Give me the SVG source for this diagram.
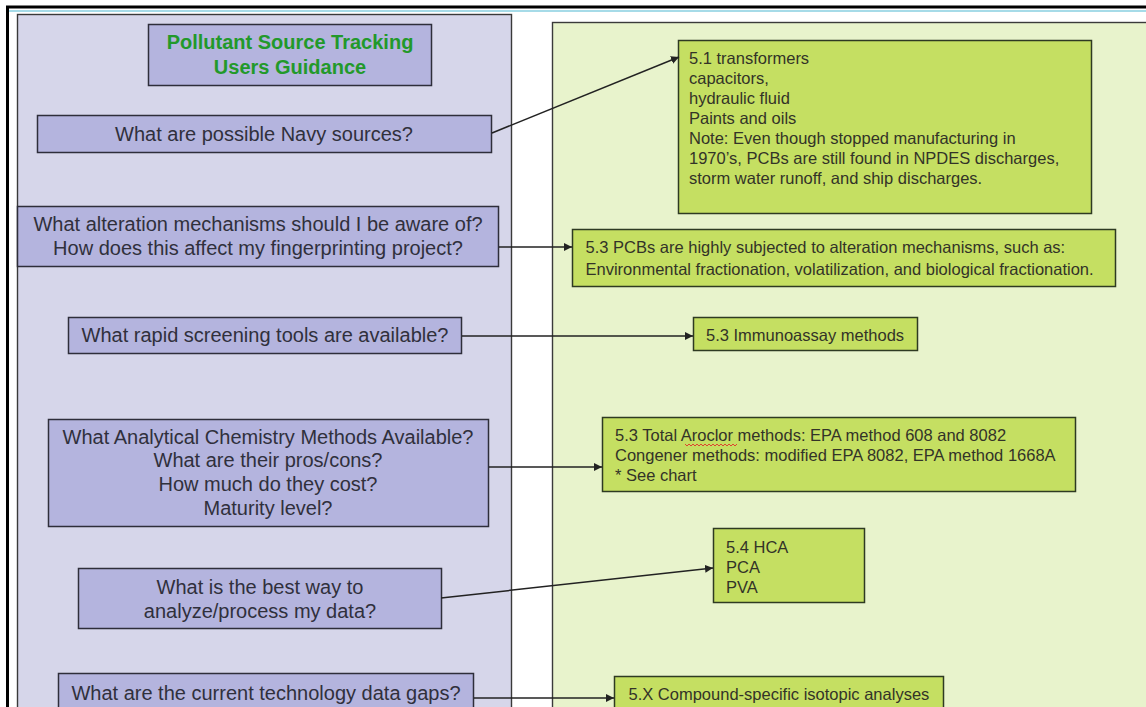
<svg xmlns="http://www.w3.org/2000/svg" width="1146" height="707" viewBox="0 0 1146 707">
  <defs>
    <marker id="arrow" viewBox="0 0 10 10" refX="10" refY="5" markerWidth="8" markerHeight="8" markerUnits="userSpaceOnUse" orient="auto">
      <path d="M0,0 L10,5 L0,10 z" fill="#222"/>
    </marker>
    <style>
      .frame { fill: none; stroke: #000; stroke-width: 3; }
      .rule { stroke: #a6dbe8; stroke-width: 2; }
      .panel-q { fill: #d6d6ea; stroke: #3a3a3a; stroke-width: 1.4; }
      .panel-a { fill: #e8f3cc; stroke: #3a3a3a; stroke-width: 1.4; }
      .q { fill: #b4b4de; stroke: #2e2e3a; stroke-width: 1.5; }
      .a { fill: #c5df62; stroke: #2e3a22; stroke-width: 1.5; }
      .qt { font-family: "Liberation Sans", Arial, sans-serif; font-size: 20px; fill: #30303c; text-anchor: middle; }
      .title { font-family: "Liberation Sans", Arial, sans-serif; font-size: 20px; font-weight: bold; fill: #22992a; text-anchor: middle; }
      .at { font-family: "Liberation Sans", Arial, sans-serif; font-size: 16.5px; fill: #333328; }
      .conn { stroke: #222; stroke-width: 1.5; fill: none; marker-end: url(#arrow); }
    </style>
  </defs>

  <rect x="0" y="0" width="1146" height="707" fill="#ffffff"/>

  <!-- page frame -->
  <path class="frame" d="M7.5,720 V7 H1150"/>
  <line class="rule" x1="9" y1="11" x2="1146" y2="11"/>

  <!-- question column and answer column -->
  <rect id="panel-questions" class="panel-q" x="17.5" y="14.5" width="494" height="720"/>
  <rect id="panel-answers" class="panel-a" x="552.5" y="22.5" width="620" height="720"/>

  <!-- question nodes -->
  <g id="title">
    <rect class="q" x="148.5" y="24.5" width="283" height="61"/>
    <text class="title" x="290" y="49">Pollutant Source Tracking</text>
    <text class="title" x="290" y="74">Users Guidance</text>
  </g>

  <g id="q-sources">
    <rect class="q" x="37.5" y="115.5" width="454" height="37"/>
    <text class="qt" x="264" y="140.5">What are possible Navy sources?</text>
  </g>

  <g id="q-alteration">
    <rect class="q" x="17.5" y="206.5" width="481" height="60"/>
    <text class="qt" x="258" y="230.5">What alteration mechanisms should I be aware of?</text>
    <text class="qt" x="258" y="254.5">How does this affect my fingerprinting project?</text>
  </g>

  <g id="q-screening">
    <rect class="q" x="68.5" y="317.5" width="393" height="36"/>
    <text class="qt" x="265" y="342">What rapid screening tools are available?</text>
  </g>

  <g id="q-methods">
    <rect class="q" x="48.5" y="419.5" width="440" height="107"/>
    <text class="qt" x="268" y="443.5">What Analytical Chemistry Methods Available?</text>
    <text class="qt" x="268" y="467">What are their pros/cons?</text>
    <text class="qt" x="268" y="490.5">How much do they cost?</text>
    <text class="qt" x="268" y="514.5">Maturity level?</text>
  </g>

  <g id="q-analysis">
    <rect class="q" x="78.5" y="568.5" width="363" height="60"/>
    <text class="qt" x="260" y="593.5">What is the best way to</text>
    <text class="qt" x="260" y="618">analyze/process my data?</text>
  </g>

  <g id="q-gaps">
    <rect class="q" x="58.5" y="673.5" width="415" height="60"/>
    <text class="qt" x="266" y="700">What are the current technology data gaps?</text>
  </g>

  <!-- answer nodes -->
  <g id="a-sources">
    <rect class="a" x="678.5" y="40.5" width="413" height="173"/>
    <text class="at" x="689" y="63.5">5.1 transformers</text>
    <text class="at" x="689" y="83.5">capacitors,</text>
    <text class="at" x="689" y="103.5">hydraulic fluid</text>
    <text class="at" x="689" y="123.5">Paints and oils</text>
    <text class="at" x="689" y="143.5">Note: Even though stopped manufacturing in</text>
    <text class="at" x="689" y="163.5">1970’s, PCBs are still found in NPDES discharges,</text>
    <text class="at" x="689" y="183.5">storm water runoff, and ship discharges.</text>
  </g>

  <g id="a-alteration">
    <rect class="a" x="572.5" y="229.5" width="543" height="57"/>
    <text class="at" x="585.5" y="253">5.3 PCBs are highly subjected to alteration mechanisms, such as:</text>
    <text class="at" x="585.5" y="275">Environmental fractionation, volatilization, and biological fractionation.</text>
  </g>

  <g id="a-screening">
    <rect class="a" x="693.5" y="317.5" width="224" height="33"/>
    <text class="at" x="706" y="341">5.3 Immunoassay methods</text>
  </g>

  <g id="a-methods">
    <rect class="a" x="602.5" y="417.5" width="473" height="74"/>
    <text class="at" x="615" y="441">5.3 Total Aroclor methods: EPA method 608  and 8082</text>
    <text class="at" x="615" y="461">Congener methods: modified EPA 8082, EPA method  1668A</text>
    <text class="at" x="615" y="481">* See chart</text>
    <polyline points="685,444 687,446 689,444 691,446 693,444 695,446 697,444 699,446 701,444 703,446 705,444 707,446 709,444 711,446 713,444 715,446 717,444 719,446 721,444 723,446 725,444 727,446 729,444 731,446 733,444 735,446 737,444" fill="none" stroke="#e0302a" stroke-width="0.9"/>
  </g>

  <g id="a-analysis">
    <rect class="a" x="713.5" y="528.5" width="151" height="74"/>
    <text class="at" x="726" y="552.5">5.4 HCA</text>
    <text class="at" x="726" y="572.5">PCA</text>
    <text class="at" x="726" y="592.5">PVA</text>
  </g>

  <g id="a-gaps">
    <rect class="a" x="614.5" y="676.5" width="329" height="60"/>
    <text class="at" x="628.5" y="700">5.X Compound-specific isotopic analyses</text>
  </g>

  <!-- connectors -->
  <g id="connectors">
    <line class="conn" x1="492" y1="133" x2="679" y2="57"/>
    <line class="conn" x1="499" y1="247" x2="572" y2="247"/>
    <line class="conn" x1="462" y1="336" x2="693" y2="336"/>
    <line class="conn" x1="489" y1="467" x2="602" y2="467"/>
    <line class="conn" x1="441" y1="598" x2="713" y2="568"/>
    <line class="conn" x1="474" y1="698" x2="614" y2="698"/>
  </g>
</svg>
